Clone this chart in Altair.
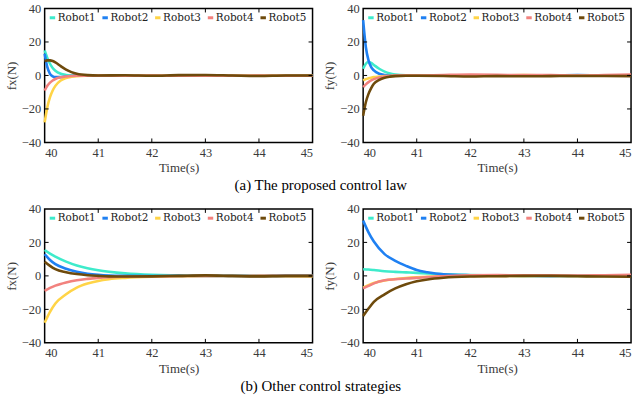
import altair as alt
import pandas as pd

ROBOTS = ["Robot1", "Robot2", "Robot3", "Robot4", "Robot5"]
COLORS = ["#3EEBCB", "#1F80F2", "#FFD447", "#F2827E", "#6E4A0C"]

X_TICKS = [40, 41, 42, 43, 44, 45]
Y_TICKS = [-40, -20, 0, 20, 40]
INNER_X = [41, 42, 43, 44]
INNER_Y = [-20, 0, 20]

# (a) proposed control law
T_A = [40, 40.05, 40.1, 40.15, 40.2, 40.3, 40.4, 40.5, 40.6, 40.8, 41, 41.5, 42, 42.5, 43, 43.5, 44, 44.5, 45]
FX_A = [
    [15, 10.5, 7, 4.5, 2.8, 1, 0.3, 0, -0.1, -0.1, 0, 0.1, -0.1, 0.1, 0, 0.1, 0, -0.1, 0],
    [13, 5, 1, -0.5, -1, -1, -0.6, -0.3, -0.1, 0, 0, -0.1, 0, 0, 0.1, 0, -0.1, 0, 0],
    [-28, -19, -13, -9, -6.2, -3, -1.5, -0.8, -0.4, -0.1, 0, 0, -0.1, 0, 0, -0.1, 0, 0, -0.1],
    [-9, -6.2, -4.3, -3, -2.1, -1.1, -0.6, -0.3, -0.2, -0.1, -0.1, -0.2, -0.1, -0.2, -0.1, -0.2, -0.1, -0.2, -0.2],
    [8.5, 9, 9, 8.6, 7.8, 5.6, 3.5, 2, 1, 0.2, 0, 0.1, -0.2, 0.2, 0.3, 0, -0.3, 0, 0],
]
FY_A = [
    [4, 7, 8, 7.5, 6.3, 4, 2.3, 1.2, 0.6, 0.1, 0, 0, 0, -0.1, 0, 0, 0.1, 0, 0],
    [33, 17, 9, 5, 3, 1, 0.3, 0, -0.1, 0, 0, 0, 0, 0, 0, 0, 0.2, 0, 0],
    [-3, -2.2, -1.7, -1.3, -1, -0.7, -0.4, -0.3, -0.2, -0.1, 0, 0, 0.1, 0, 0.2, 0, 0, 0, -0.2],
    [-7, -5.3, -4, -3, -2.2, -1.2, -0.6, -0.3, -0.1, 0, 0, 0.3, 0.5, 0.4, 0.2, 0.3, 0, 0.2, 0.5],
    [-24, -16, -11, -7.5, -5, -2.6, -1.3, -0.7, -0.4, -0.2, -0.2, -0.3, -0.6, -0.4, -0.5, -0.4, -0.3, -0.3, -0.4],
]

# (b) other control strategies
T_B = [40, 40.1, 40.2, 40.4, 40.6, 40.8, 41, 41.2, 41.5, 42, 42.5, 43, 43.5, 44, 44.5, 45]
FX_B = [
    [15.5, 13.3, 11.5, 8.5, 6.2, 4.6, 3.4, 2.5, 1.5, 0.6, 0.3, 0.1, 0, 0, 0, 0],
    [13, 9.5, 7, 4.3, 2.5, 1.3, 0.6, 0.2, 0, -0.1, 0, 0, 0, 0, 0, 0],
    [-28, -21.5, -16.5, -11, -7, -4.6, -3, -2, -1.2, -0.5, -0.2, 0, -0.1, 0, -0.2, -0.3],
    [-9, -7.2, -5.8, -3.9, -2.6, -1.8, -1.2, -0.8, -0.5, -0.2, -0.1, 0, -0.1, 0, 0, 0],
    [8.5, 6, 4, 2.2, 1.1, 0.4, 0, -0.3, -0.4, -0.3, 0, 0.3, 0, -0.3, 0, 0],
]
FY_B = [
    [4, 3.8, 3.5, 2.8, 2.4, 2.1, 1.8, 1.4, 1, 0.5, 0.2, 0, 0, 0, 0, 0],
    [33, 26, 20.5, 13, 9, 6, 3.5, 2.2, 1, 0.4, 0.2, 0.1, 0, 0.4, 0.2, 0],
    [-7, -5.5, -4.3, -2.8, -1.9, -1.3, -0.9, -0.6, -0.3, -0.1, 0, 0, 0.1, 0, 0, -0.2],
    [-7.5, -6, -4.5, -2.6, -2, -1.6, -1.2, -0.7, -0.2, 0.4, 0.5, 0.3, 0.3, 0.2, 0.4, 0.6],
    [-24, -19.5, -15.5, -11, -7.5, -5, -3.2, -2.1, -1.1, -0.4, -0.2, 0, 0, -0.2, -0.4, -0.5],
]

W, H = 270, 135
TICK = 4
SERIF = "Liberation Serif"
LEGEND_FONT = "DejaVu Serif"


def panel(times, series, ylabel):
    rows = []
    for name, vals in zip(ROBOTS, series):
        for t, v in zip(times, vals):
            rows.append({"t": t, "v": v, "robot": name})
    df = pd.DataFrame(rows)
    x = alt.X("t:Q", scale=alt.Scale(domain=[40, 45], nice=False, zero=False),
              axis=alt.Axis(values=X_TICKS, title="Time(s)", format="d"))
    y = alt.Y("v:Q", scale=alt.Scale(domain=[-40, 40], nice=False),
              axis=alt.Axis(values=Y_TICKS, title=ylabel, format="d"))
    lines = alt.Chart(df).mark_line(strokeWidth=2.6, interpolate="monotone").encode(
        x=x, y=y,
        color=alt.Color("robot:N", scale=alt.Scale(domain=ROBOTS, range=COLORS),
                        legend=alt.Legend(orient="none", legendX=1, legendY=4, direction="horizontal",
                                          title=None, symbolType="stroke", symbolSize=30,
                                          symbolStrokeWidth=3, symbolOffset=1.5, labelFont=LEGEND_FONT,
                                          labelFontSize=10.5, labelColor="#222222", labelOffset=0.1,
                                          columnPadding=0.1, padding=0.1, gridAlign="none")),
    )
    xt = pd.DataFrame({"t": INNER_X})
    yt = pd.DataFrame({"v": INNER_Y})
    rule = dict(color="black", strokeWidth=1)
    top = alt.Chart(xt).mark_rule(**rule).encode(x=x, y=alt.value(0), y2=alt.value(TICK))
    bot = alt.Chart(xt).mark_rule(**rule).encode(x=x, y=alt.value(H), y2=alt.value(H - TICK))
    left = alt.Chart(yt).mark_rule(**rule).encode(y=y, x=alt.value(0), x2=alt.value(TICK))
    right = alt.Chart(yt).mark_rule(**rule).encode(y=y, x=alt.value(W), x2=alt.value(W - TICK))
    return alt.layer(lines, top, bot, left, right).properties(width=W, height=H)


def caption(text):
    return alt.TitleParams(text, orient="bottom", anchor="middle", fontSize=15, font=SERIF,
                           fontWeight="normal", color="black", offset=3)


row_a = alt.hconcat(panel(T_A, FX_A, "fx(N)"), panel(T_A, FY_A, "fy(N)"), spacing=4) \
    .resolve_legend(color="independent").properties(title=caption("(a) The proposed control law"))
row_b = alt.hconcat(panel(T_B, FX_B, "fx(N)"), panel(T_B, FY_B, "fy(N)"), spacing=4) \
    .resolve_legend(color="independent").properties(title=caption("(b) Other control strategies"))

chart = alt.vconcat(row_a, row_b, spacing=8).resolve_legend(color="independent").properties(
    padding={"left": 4, "top": 0, "right": 0, "bottom": 0}
).configure_view(stroke="black", strokeWidth=1.5).configure_axis(
    ticks=False, domain=False, grid=False, labelFont=SERIF, labelFontSize=12.5,
    labelColor="#3a3a3a", titleFont=SERIF, titleFontSize=13, titleFontWeight="normal",
    titleColor="#3a3a3a", labelPadding=4, titlePadding=3
)

chart.save("out.html", embed_options={"renderer": "svg", "actions": False})
